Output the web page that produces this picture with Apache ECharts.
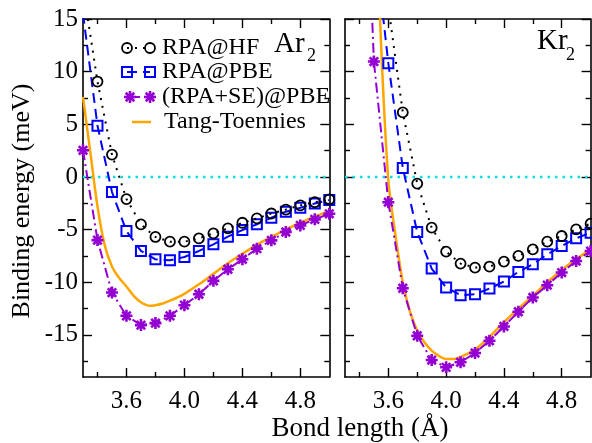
<!DOCTYPE html>
<html><head><meta charset="utf-8">
<script src="https://cdn.jsdelivr.net/npm/echarts@6/dist/echarts.min.js"></script>
<style>html,body{margin:0;padding:0;background:#fff}#c{width:592px;height:443px}</style>
</head><body><div id="c"></div>
<script>
// ---------- data ----------
const arX      = [3.3,3.4,3.5,3.6,3.7,3.8,3.9,4.0,4.1,4.2,4.3,4.4,4.5,4.6,4.7,4.8,4.9,5.0];
const arRPAHF  = [18,9.06,2.12,-2.1,-4.5,-5.7,-6.15,-6.15,-5.83,-5.36,-4.89,-4.35,-3.94,-3.47,-3.1,-2.7,-2.4,-2.14];
const arRPAPBE = [15.5,4.87,-1.43,-5.14,-7.03,-7.82,-7.92,-7.6,-7.03,-6.4,-5.67,-5.05,-4.5,-3.88,-3.3,-2.93,-2.52,-2.2];
const arSEPBE  = [2.53,-6.0,-10.98,-13.19,-14.07,-13.88,-13.19,-12.18,-11.14,-9.87,-8.77,-7.82,-6.81,-6.02,-5.23,-4.6,-4.03,-3.5];
const arTTX    = [3.3,3.35,3.4,3.45,3.5,3.55,3.6,3.65,3.7,3.76,3.8,3.85,3.9,3.95,4.0,4.1,4.2,4.3,4.4,4.5,4.6,4.7,4.8,4.9,5.0];
const arTT     = [7.6,2.4,-2.8,-6.5,-8.5,-9.6,-10.4,-11.3,-11.9,-12.24,-12.18,-12.02,-11.75,-11.45,-11.1,-10.2,-9.2,-8.2,-7.3,-6.45,-5.7,-5.0,-4.35,-3.78,-3.25];

const krHFX    = [3.6,3.7,3.8,3.9,4.0,4.1,4.2,4.3,4.4,4.5,4.6,4.7,4.8,4.9,5.0];
const krRPAHF  = [16.2,6.13,-0.63,-4.82,-7.09,-8.23,-8.61,-8.51,-8.04,-7.5,-6.88,-6.15,-5.61,-4.98,-4.44];
const krPBEX   = [3.5,3.6,3.7,3.8,3.9,4.0,4.1,4.2,4.3,4.4,4.5,4.6,4.7,4.8,4.9,5.0];
const krRPAPBE = [23,10.8,0.86,-5.23,-8.7,-10.5,-11.23,-11.14,-10.6,-9.93,-9.02,-8.3,-7.35,-6.56,-5.83,-5.3];
const krSEX    = [3.4,3.5,3.6,3.7,3.8,3.9,4.0,4.1,4.2,4.3,4.4,4.5,4.6,4.7,4.8,4.9,5.0];
const krSEPBE  = [45,10.96,-2.4,-10.57,-15.08,-17.39,-18.08,-17.6,-16.72,-15.56,-14.2,-12.8,-11.45,-10.28,-9.08,-7.98,-7.04];
const krTTX    = [3.5,3.55,3.6,3.65,3.7,3.75,3.8,3.85,3.9,3.95,4.0,4.05,4.12,4.2,4.3,4.4,4.5,4.6,4.7,4.8,4.9,5.0];
const krTT     = [30,12.5,-0.3,-5.6,-10.0,-12.8,-14.6,-15.7,-16.5,-17.0,-17.3,-17.3,-16.97,-16.4,-15.2,-13.8,-12.5,-11.3,-10.0,-8.83,-7.8,-6.9];

const zeroX = [3.3,5.0];
const zeroY = [0,0];

const xRange = [3.3,5.0];
const yRange = [-19,15];
const xMajor = [3.6,4.0,4.4,4.8];
const xMinor = [3.4,3.8,4.2,4.6];
const yMajor = [-15,-10,-5,0,5,10,15];
const yMinor = [-17.5,-12.5,-7.5,-2.5,2.5,7.5,12.5];

const seriesNames = ['RPA@HF','RPA@PBE','(RPA+SE)@PBE','Tang-Toennies'];
const panelLabels = ['Ar','Kr'];

// ---------- styling ----------
const FONT = 'Liberation Serif';
const BLACK = '#000000', BLUE = '#0000ff', PURPLE = '#9400d3', ORANGE = '#ffa500', CYAN = '#00e0e0';
const STAR = 'path://M0,-1L0,1M-1,0L1,0M-0.707,-0.707L0.707,0.707M-0.707,0.707L0.707,-0.707';
const dashHF = [2,6], dashPBE = [10,6], dashSE = [10,4,2,4];

const pairs = (xs, ys) => xs.map((x,i)=>[x, ys[i]]);

const grids = [
  {left:83, top:19, width:246.3, height:358},
  {left:83, top:19, width:246.3, height:358},
  {left:345, top:19, width:245.6, height:358},
  {left:345, top:19, width:245.6, height:358}
];

const xAxes = [], yAxes = [];
for (let p=0;p<2;p++){
  const gMain = 2*p, gMin = 2*p+1;
  ['bottom','top'].forEach(pos=>{
    xAxes.push({gridIndex:gMain, type:'value', min:xRange[0], max:xRange[1], position:pos,
      axisLine:{show:true, onZero:false, lineStyle:{color:BLACK, width:1.6}},
      axisTick:{show:true, inside:true, length:9, customValues:xMajor, lineStyle:{color:BLACK, width:1.4}},
      axisLabel:{show:pos==='bottom', customValues:xMajor, margin:12, color:BLACK, fontSize:25, fontFamily:FONT,
        formatter:v=>Number(v).toFixed(1)},
      splitLine:{show:false}});
  });
  ['bottom','top'].forEach(pos=>{
    xAxes.push({gridIndex:gMin, type:'value', min:xRange[0], max:xRange[1], position:pos,
      axisLine:{show:false, onZero:false},
      axisTick:{show:true, inside:true, length:5, customValues:xMinor, lineStyle:{color:BLACK, width:1.4}},
      axisLabel:{show:false}, splitLine:{show:false}});
  });
  ['left','right'].forEach(pos=>{
    yAxes.push({gridIndex:gMain, type:'value', min:yRange[0], max:yRange[1], position:pos,
      axisLine:{show:true, onZero:false, lineStyle:{color:BLACK, width:1.6}},
      axisTick:{show:true, inside:true, length:9, customValues:yMajor, lineStyle:{color:BLACK, width:1.4}},
      axisLabel:{show:(p===0 && pos==='left'), customValues:yMajor, margin:5, color:BLACK, fontSize:25, fontFamily:FONT},
      splitLine:{show:false}});
  });
  ['left','right'].forEach(pos=>{
    yAxes.push({gridIndex:gMin, type:'value', min:yRange[0], max:yRange[1], position:pos,
      axisLine:{show:false, onZero:false},
      axisTick:{show:true, inside:true, length:5, customValues:yMinor, lineStyle:{color:BLACK, width:1.4}},
      axisLabel:{show:false}, splitLine:{show:false}});
  });
}

function mkSeries(p, name, data, kind){
  const base = {name, type:'line', xAxisIndex:4*p, yAxisIndex:4*p, data, animation:false,
    clip:true, showAllSymbol:true, silent:true};
  if (kind==='hf') return Object.assign(base,{symbol:'circle', symbolSize:10,
    itemStyle:{color:'rgba(0,0,0,0)', borderColor:BLACK, borderWidth:1.8},
    lineStyle:{color:BLACK, width:2, type:dashHF}, z:5});
  if (kind==='pbe') return Object.assign(base,{symbol:'rect', symbolSize:10,
    itemStyle:{color:'rgba(0,0,0,0)', borderColor:BLUE, borderWidth:2},
    lineStyle:{color:BLUE, width:2, type:dashPBE}, z:4});
  if (kind==='se') return Object.assign(base,{symbol:STAR, symbolSize:12,
    itemStyle:{color:PURPLE, borderColor:PURPLE, borderWidth:2.6},
    lineStyle:{color:PURPLE, width:2, type:dashSE}, z:3});
  if (kind==='tt') return Object.assign(base,{symbol:'none', smooth:0.3,
    lineStyle:{color:ORANGE, width:2.5, type:'solid'}, z:2});
  if (kind==='zero') return Object.assign(base,{symbol:'none',
    lineStyle:{color:CYAN, width:2.5, type:[2.5,5]}, z:1});
}

const series = [
  mkSeries(0,'zero', pairs(zeroX,zeroY),'zero'),
  mkSeries(0,seriesNames[3], pairs(arTTX,arTT),'tt'),
  mkSeries(0,seriesNames[2], pairs(arX,arSEPBE),'se'),
  mkSeries(0,seriesNames[1], pairs(arX,arRPAPBE),'pbe'),
  mkSeries(0,seriesNames[0], pairs(arX,arRPAHF),'hf'),
  mkSeries(1,'zero', pairs(zeroX,zeroY),'zero'),
  mkSeries(1,seriesNames[3], pairs(krTTX,krTT),'tt'),
  mkSeries(1,seriesNames[2], pairs(krSEX,krSEPBE),'se'),
  mkSeries(1,seriesNames[1], pairs(krPBEX,krRPAPBE),'pbe'),
  mkSeries(1,seriesNames[0], pairs(krHFX,krRPAHF),'hf')
];

// ---------- legend (drawn as graphics) ----------
const g = [];
function star(cx, cy, r, color){
  const d = r*0.707;
  [[0,-r,0,r],[-r,0,r,0],[-d,-d,d,d],[-d,d,d,-d]].forEach(s=>{
    g.push({type:'line', shape:{x1:cx+s[0], y1:cy+s[1], x2:cx+s[2], y2:cy+s[3]},
      style:{stroke:color, lineWidth:2.6}, z:100});
  });
}
function txt(x, y, text, size, opts){
  return Object.assign({type:'text', x, y, z:100,
    style:{text, fontSize:size, fontFamily:FONT, fill:BLACK, textAlign:'left', textVerticalAlign:'middle'}}, opts||{});
}
const lgX1 = 127, lgX2 = 150, lgTextX = 162;
const rowY = [48, 72, 97, 122];
// row 1
g.push({type:'line', shape:{x1:lgX1, y1:rowY[0], x2:lgX2, y2:rowY[0]}, style:{stroke:BLACK, lineWidth:2, lineDash:dashHF}, z:100});
[lgX1,lgX2].forEach(x=>g.push({type:'circle', shape:{cx:x, cy:rowY[0], r:5}, style:{fill:'none', stroke:BLACK, lineWidth:1.8}, z:100}));
// row 2
g.push({type:'line', shape:{x1:lgX1, y1:rowY[1], x2:lgX2, y2:rowY[1]}, style:{stroke:BLUE, lineWidth:2, lineDash:dashPBE}, z:100});
[lgX1,lgX2].forEach(x=>g.push({type:'rect', shape:{x:x-5, y:rowY[1]-5, width:10, height:10}, style:{fill:'none', stroke:BLUE, lineWidth:2}, z:100}));
// row 3
g.push({type:'line', shape:{x1:130, y1:rowY[2], x2:lgX2, y2:rowY[2]}, style:{stroke:PURPLE, lineWidth:2, lineDash:dashSE}, z:100});
star(130, rowY[2], 6, PURPLE); star(lgX2, rowY[2], 6, PURPLE);
// row 4
g.push({type:'line', shape:{x1:132, y1:rowY[3], x2:151, y2:rowY[3]}, style:{stroke:ORANGE, lineWidth:2.5}, z:100});
seriesNames.forEach((n,i)=>{ g.push(txt(i===3?164:lgTextX, rowY[i], n, 24)); });
// panel labels
g.push(txt(274, 44, panelLabels[0], 29));
g.push(txt(307, 56, '2', 18));
g.push(txt(537, 41, panelLabels[1], 29));
g.push(txt(566, 55, '2', 18));
// axis titles
g.push({type:'text', x:360, y:429, z:100, style:{text:'Bond length (Å)', fontSize:27, fontFamily:FONT, fill:BLACK, textAlign:'center', textVerticalAlign:'middle'}});
g.push({type:'text', x:22, y:201, rotation:Math.PI/2, z:100, style:{text:'Binding energy (meV)', fontSize:26, fontFamily:FONT, fill:BLACK, textAlign:'center', textVerticalAlign:'middle'}});

const chart = echarts.init(document.getElementById('c'), null, {renderer:'canvas'});
chart.setOption({
  animation:false,
  backgroundColor:'#ffffff',
  grid:grids,
  xAxis:xAxes,
  yAxis:yAxes,
  series:series,
  graphic:{elements:g}
});
</script>
</body></html>
